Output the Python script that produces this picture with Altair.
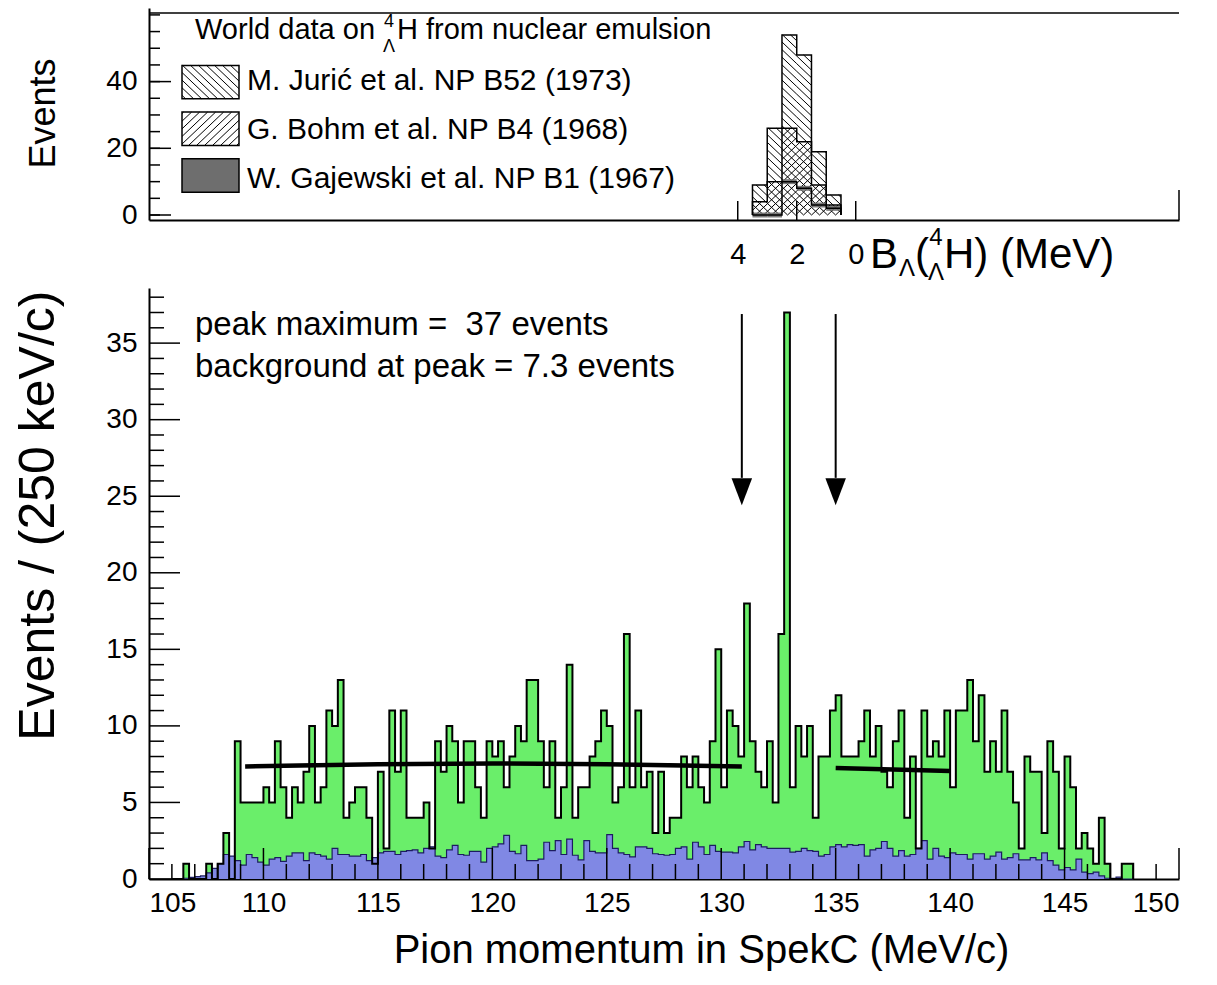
import altair as alt
import numpy as np
import pandas as pd

FONT = "Liberation Sans"
GREEN = "#6aee6a"
BLUE = "#8088e4"
GAJ = "#6e6e6e"

# ---------------- bottom panel: pion momentum spectrum (250 keV bins from 106.0) ----------------
first_edge = 106.0
bin_width = 0.25
signal_counts = [
    0, 0, 1, 0,      # 106
    0, 0, 1, 0,      # 107
    1, 3, 0, 9,      # 108
    5, 5, 5, 5,      # 109
    6, 5, 9, 6,      # 110
    4, 6, 5, 7,      # 111
    10, 5, 6, 11,    # 112
    10, 13, 4, 5,    # 113
    6, 6, 4, 1,      # 114
    7, 2, 11, 7,     # 115
    11, 4, 4, 4,     # 116
    5, 2, 9, 7,      # 117
    10, 9, 5, 9,     # 118
    9, 6, 4, 9,      # 119
    8, 9, 6, 8,      # 120
    10, 9, 13, 13,   # 121
    9, 6, 9, 4,      # 122
    6, 14, 4, 6,     # 123
    6, 8, 9, 11,     # 124
    10, 5, 6, 16,    # 125
    6, 11, 6, 7,     # 126
    3, 7, 3, 4,      # 127
    4, 8, 6, 8,      # 128
    6, 5, 9, 15,     # 129
    6, 11, 10, 8,    # 130
    18, 9, 7, 6,     # 131
    9, 5, 16, 37,    # 132
    6, 10, 8, 10,    # 133
    4, 8, 8, 11,     # 134
    12, 8, 8, 8,     # 135
    9, 11, 8, 10,    # 136
    7, 6, 9, 11,     # 137
    4, 8, 2, 11,     # 138
    8, 9, 8, 11,     # 139
    6, 11, 11, 13,   # 140
    9, 12, 7, 9,     # 141
    7, 11, 7, 5,     # 142
    2, 8, 7, 7,      # 143
    3, 9, 7, 2,      # 144
    8, 6, 2, 3,      # 145
    2, 1, 4, 1,      # 146
    0, 0, 1, 1,      # 147
]
background_counts = [
    0.0, 0.0, 0.05, 0.1,      # 106
    0.15, 0.2, 0.4, 0.7,      # 107
    1.0, 1.6, 1.5, 1.2,       # 108
    0.9, 1.6, 1.4, 1.1,       # 109
    0.9, 1.3, 1.4, 1.15,      # 110
    1.5, 1.7, 1.7, 1.2,       # 111
    1.7, 1.6, 1.5, 1.3,       # 112
    2.0, 1.6, 1.6, 1.5,       # 113
    1.5, 1.6, 1.2, 1.4,       # 114
    1.7, 1.8, 1.8, 1.6,       # 115
    1.8, 1.85, 1.9, 1.7,      # 116
    2.0, 2.1, 1.5, 1.4,       # 117
    1.9, 2.2, 1.6, 1.55,      # 118
    1.8, 1.8, 1.1, 2.0,       # 119
    2.1, 2.3, 2.85, 1.8,      # 120
    1.65, 2.2, 1.2, 1.2,      # 121
    1.3, 2.4, 1.85, 2.5,      # 122
    1.6, 2.6, 1.55, 1.25,     # 123
    2.5, 1.8, 1.7, 1.7,       # 124
    2.9, 2.0, 1.7, 1.6,       # 125
    1.45, 2.1, 2.1, 2.0,      # 126
    1.65, 1.6, 1.55, 1.6,     # 127
    2.0, 2.1, 1.3, 2.4,       # 128
    2.1, 1.6, 2.2, 1.8,       # 129
    1.75, 1.75, 1.7, 2.1,     # 130
    2.45, 1.9, 2.25, 2.1,     # 131
    2.0, 2.0, 2.0, 2.0,       # 132
    1.75, 1.8, 2.0, 1.85,     # 133
    1.8, 1.5, 1.6, 2.1,       # 134
    2.25, 2.1, 2.25, 2.2,     # 135
    2.25, 1.5, 1.9, 2.0,      # 136
    2.45, 2.0, 1.5, 1.85,     # 137
    1.5, 1.6, 2.0, 2.5,       # 138
    1.3, 2.0, 1.5, 1.4,       # 139
    1.7, 1.6, 1.6, 1.3,       # 140
    1.65, 1.65, 1.3, 1.5,     # 141
    1.75, 1.3, 1.4, 1.65,     # 142
    1.25, 1.25, 1.4, 1.25,    # 143
    1.7, 1.2, 0.9, 0.6,       # 144
    0.75, 0.6, 1.3, 0.45,     # 145
    0.35, 0.45, 0.2, 0.05,    # 146
    0.05, 0.12, 0.0, 0.0,     # 147
]
fit1_x = [109.2, 115.0, 120.0, 125.0, 130.9]
fit1_y = [7.35, 7.5, 7.55, 7.5, 7.35]
fit2_x = [135.0, 140.0]
fit2_y = [7.25, 7.05]
arrow_x = [130.9, 135.0]
arrow_top = [36.9, 36.9]
arrow_neck = [26.2, 26.2]
arrow_head_mid = [25.3, 25.3]
x_major = [105, 110, 115, 120, 125, 130, 135, 140, 145, 150]
y_major = [0, 5, 10, 15, 20, 25, 30, 35]
bottom_notes = ["peak maximum =\u00a0 37 events", "background at peak = 7.3 events"]

# ---------------- top panel: world emulsion data on B_Lambda (0.5 MeV bins) ----------------
b_lo = [3.0, 2.5, 2.0, 1.5, 1.0, 0.5]
b_hi = [3.5, 3.0, 2.5, 2.0, 1.5, 1.0]
juric = [5, 16, 28, 26, 10, 3]
bohm = [4, 10, 16, 14, 6, 1]
gajewski = [0, 0, 10, 8, 3, 2]
b_labels = [4, 2, 0]
top_y_labels = [0, 20, 40]
legend_entries = ["M. Jurić et al. NP B52 (1973)", "G. Bohm et al. NP B4 (1968)",
                  "W. Gajewski et al. NP B1 (1967)"]

# ---------------- layout ----------------
W = 1030
H_TOP = 212
H_BOT = 591
X_DOM = [105, 150]
YB_DOM = [0, 38.6]
B_DOM = [-10.96, 23.96]
YT_DOM = [0, 60.57]

px_per_mev_top = W / (B_DOM[1] - B_DOM[0])
px_per_evt_top = H_TOP / (YT_DOM[1] - YT_DOM[0])
k_slope = px_per_mev_top / px_per_evt_top       # events per MeV for a 45 degree line
hatch_step = 8.0 / px_per_mev_top


def b_of_px(px):
    return B_DOM[1] - px / px_per_mev_top


def v_of_py(py):
    return (H_TOP - py) / px_per_evt_top


def hatch(los, his, vlos, vhis, kind):
    rows = []
    cs = np.arange(-40.0, 60.0, hatch_step)
    for lo, hi, vlo, vhi in zip(los, his, vlos, vhis):
        if vhi - vlo <= 0:
            continue
        for c in cs:
            if kind == "back":
                bs = max(c + vlo / k_slope, lo)
                be = min(c + vhi / k_slope, hi)
                if be - bs > 1e-9:
                    rows.append((bs, k_slope * (bs - c), be, k_slope * (be - c)))
            else:
                bs = max(c - vhi / k_slope, lo)
                be = min(c - vlo / k_slope, hi)
                if be - bs > 1e-9:
                    rows.append((bs, k_slope * (c - bs), be, k_slope * (c - be)))
    return pd.DataFrame(rows, columns=["b1", "v1", "b2", "v2"])


total = [j + b + g for j, b, g in zip(juric, bohm, gajewski)]
bg = [b + g for b, g in zip(bohm, gajewski)]

xs_top = alt.Scale(domain=B_DOM, reverse=True, nice=False, zero=False)
ys_top = alt.Scale(domain=YT_DOM, nice=False)


def step_df(values):
    order = sorted(range(len(b_lo)), key=lambda i: b_lo[i])
    xs = [b_lo[order[0]]] + [b_lo[i] for i in order] + [b_hi[order[-1]]]
    ys = [0] + [values[i] for i in order] + [0]
    return pd.DataFrame({"b": xs, "v": ys, "o": list(range(len(xs)))})


def label(text, px, py, size, align="left", baseline="middle"):
    return alt.Chart(pd.DataFrame({"t": [text]})).mark_text(
        font=FONT, fontSize=size, align=align, baseline=baseline, color="black").encode(
        x=alt.value(px), y=alt.value(py), text="t:N")


top_bins = pd.DataFrame({"lo": b_lo, "hi": b_hi, "g": gajewski})

top_layers = []
hb = hatch(b_lo, b_hi, [0] * 6, total, "back")
hf = hatch(b_lo, b_hi, [0] * 6, bg, "fwd")
top_layers.append(alt.Chart(hb).mark_rule(color="black", strokeWidth=1).encode(
    x=alt.X("b1:Q", scale=xs_top,
            axis=alt.Axis(values=b_labels, title=None, labelFontSize=29, labelPadding=20,
                          format="d", domainWidth=2)),
    x2="b2:Q",
    y=alt.Y("v1:Q", scale=ys_top,
            axis=alt.Axis(values=top_y_labels, title="Events", labelFontSize=28, labelPadding=12,
                          titleFontSize=36, titleAngle=270, titleX=-106, titleY=105,
                          titleAlign="center", titleBaseline="middle", domainWidth=2)),
    y2="v2:Q"))
top_layers.append(alt.Chart(hf).mark_rule(color="black", strokeWidth=1).encode(
    x=alt.X("b1:Q", scale=xs_top), x2="b2:Q", y=alt.Y("v1:Q", scale=ys_top), y2="v2:Q"))
top_layers.append(alt.Chart(top_bins).mark_bar(color=GAJ, opacity=0.9).encode(
    x=alt.X("hi:Q", scale=xs_top), x2="lo:Q", y=alt.Y("g:Q", scale=ys_top)))
for vals in (total, bg, gajewski):
    top_layers.append(alt.Chart(step_df(vals)).mark_line(
        interpolate="step-after", color="black", strokeWidth=1.5).encode(
        x=alt.X("b:Q", scale=xs_top), y=alt.Y("v:Q", scale=ys_top), order="o:Q"))

# legend boxes (layout in pixels, converted into the panel's data coordinates)
box_x = [33, 90]
box_y = [[55, 90], [104, 139], [153, 188]]
lg = pd.DataFrame({
    "b1": [b_of_px(box_x[1])] * 3, "b2": [b_of_px(box_x[0])] * 3,
    "v1": [v_of_py(y[1]) for y in box_y], "v2": [v_of_py(y[0]) for y in box_y],
})
top_layers.append(alt.Chart(lg.iloc[[2]]).mark_rect(color=GAJ).encode(
    x=alt.X("b1:Q", scale=xs_top), x2="b2:Q", y=alt.Y("v1:Q", scale=ys_top), y2="v2:Q"))
lh1 = hatch([lg.b1[0]], [lg.b2[0]], [lg.v1[0]], [lg.v2[0]], "back")
lh2 = hatch([lg.b1[1]], [lg.b2[1]], [lg.v1[1]], [lg.v2[1]], "fwd")
for df in (lh1, lh2):
    top_layers.append(alt.Chart(df).mark_rule(color="black", strokeWidth=1).encode(
        x=alt.X("b1:Q", scale=xs_top), x2="b2:Q", y=alt.Y("v1:Q", scale=ys_top), y2="v2:Q"))
top_layers.append(alt.Chart(lg).mark_rect(filled=False, color="black", strokeWidth=1.5).encode(
    x=alt.X("b1:Q", scale=xs_top), x2="b2:Q", y=alt.Y("v1:Q", scale=ys_top), y2="v2:Q"))

for i, entry in enumerate(legend_entries):
    top_layers.append(label(entry, 98, (box_y[i][0] + box_y[i][1]) / 2, 30))
top_layers.append(label("World data on", 46, 22, 29))
top_layers.append(label("4", 240, 14, 18, align="center"))
top_layers.append(label("Λ", 240, 39, 18, align="center"))
top_layers.append(label("H from nuclear emulsion", 248, 22, 29))

# x axis title of top panel: B_Lambda(4_Lambda H) (MeV)
top_layers.append(label("B", 721, 260, 42, baseline="alphabetic"))
top_layers.append(label("Λ", 750, 268, 24, baseline="alphabetic"))
top_layers.append(label("(", 766, 260, 42, baseline="alphabetic"))
top_layers.append(label("4", 787, 237, 24, align="center", baseline="alphabetic"))
top_layers.append(label("Λ", 787, 272, 24, align="center", baseline="alphabetic"))
top_layers.append(label("H) (MeV)", 795, 260, 42, baseline="alphabetic"))

# frame pieces and inward ticks, top panel
top_layers.append(alt.Chart(pd.DataFrame({"v": [YT_DOM[1]]})).mark_rule(color="black", strokeWidth=1.5).encode(
    y=alt.Y("v:Q", scale=ys_top), x=alt.value(0), x2=alt.value(W)))
top_layers.append(alt.Chart(pd.DataFrame({"b": [B_DOM[0]]})).mark_rule(color="black", strokeWidth=1.5).encode(
    x=alt.X("b:Q", scale=xs_top), y=alt.value(H_TOP), y2=alt.value(H_TOP - 30)))
top_minor_y = [v for v in range(0, 61, 5)]
top_layers.append(alt.Chart(pd.DataFrame({"v": top_minor_y})).mark_rule(color="black", strokeWidth=1.5).encode(
    y=alt.Y("v:Q", scale=ys_top), x=alt.value(0), x2=alt.value(11)))
top_layers.append(alt.Chart(pd.DataFrame({"v": top_y_labels})).mark_rule(color="black", strokeWidth=1.5).encode(
    y=alt.Y("v:Q", scale=ys_top), x=alt.value(0), x2=alt.value(22)))
top_layers.append(alt.Chart(pd.DataFrame({"b": b_labels})).mark_rule(color="black", strokeWidth=1.5).encode(
    x=alt.X("b:Q", scale=xs_top), y=alt.value(H_TOP), y2=alt.value(H_TOP - 19)))

top = alt.layer(*top_layers).properties(width=W, height=H_TOP)

# ---------------- bottom panel ----------------
n = len(signal_counts)
edges = [first_edge + i * bin_width for i in range(n + 1)]
steps = pd.DataFrame({
    "x": edges,
    "sig": signal_counts + [0],
    "bkg": background_counts[:n] + [0],
})
xs_bot = alt.Scale(domain=X_DOM, nice=False, zero=False)
ys_bot = alt.Scale(domain=YB_DOM, nice=False)

bot_layers = []
bot_layers.append(alt.Chart(steps).mark_area(interpolate="step-after", color=GREEN).encode(
    x=alt.X("x:Q", scale=xs_bot,
            axis=alt.Axis(values=x_major, title="Pion momentum in SpekC (MeV/c)", labelFontSize=28,
                          labelPadding=10, format="d", titleFontSize=40, titleX=552, titleY=71,
                          titleAlign="center", titleBaseline="middle", domainWidth=2)),
    y=alt.Y("sig:Q", scale=ys_bot,
            axis=alt.Axis(values=y_major, title="Events / (250 keV/c)", labelFontSize=28,
                          labelPadding=12, titleFontSize=50, titleAngle=270, titleX=-111, titleY=2,
                          titleAlign="right", titleBaseline="middle", domainWidth=2)),
))
bot_layers.append(alt.Chart(steps).mark_area(interpolate="step-after", color=BLUE).encode(
    x=alt.X("x:Q", scale=xs_bot), y=alt.Y("bkg:Q", scale=ys_bot)))
bot_layers.append(alt.Chart(steps).mark_line(interpolate="step-after", color="#1c1c60", strokeWidth=1.2).encode(
    x=alt.X("x:Q", scale=xs_bot), y=alt.Y("bkg:Q", scale=ys_bot)))
bot_layers.append(alt.Chart(steps).mark_line(interpolate="step-after", color="black", strokeWidth=2).encode(
    x=alt.X("x:Q", scale=xs_bot), y=alt.Y("sig:Q", scale=ys_bot)))
for fx, fy in ((fit1_x, fit1_y), (fit2_x, fit2_y)):
    bot_layers.append(alt.Chart(pd.DataFrame({"x": fx, "y": fy})).mark_line(
        color="black", strokeWidth=4.5, interpolate="monotone").encode(
        x=alt.X("x:Q", scale=xs_bot), y=alt.Y("y:Q", scale=ys_bot)))
arrows = pd.DataFrame({"x": arrow_x, "top": arrow_top, "neck": arrow_neck, "mid": arrow_head_mid})
bot_layers.append(alt.Chart(arrows).mark_rule(color="black", strokeWidth=2).encode(
    x=alt.X("x:Q", scale=xs_bot), y=alt.Y("top:Q", scale=ys_bot), y2="neck:Q"))
bot_layers.append(alt.Chart(arrows).mark_point(
    shape="M-0.76,-1L0.76,-1L0,1Z", filled=True, size=729, color="black", opacity=1).encode(
    x=alt.X("x:Q", scale=xs_bot), y=alt.Y("mid:Q", scale=ys_bot)))
bot_layers.append(label(bottom_notes[0], 46, 37, 33))
bot_layers.append(label(bottom_notes[1], 46, 79, 33))

# inward ticks, bottom panel
x_minor = [v for v in range(106, 150) if v % 5]
y_minor = [v for v in range(1, 39) if v % 5]
bot_layers.append(alt.Chart(pd.DataFrame({"v": x_minor})).mark_rule(color="black", strokeWidth=1.5).encode(
    x=alt.X("v:Q", scale=xs_bot), y=alt.value(H_BOT), y2=alt.value(H_BOT - 15)))
bot_layers.append(alt.Chart(pd.DataFrame({"v": x_major})).mark_rule(color="black", strokeWidth=1.5).encode(
    x=alt.X("v:Q", scale=xs_bot), y=alt.value(H_BOT), y2=alt.value(H_BOT - 31)))
bot_layers.append(alt.Chart(pd.DataFrame({"v": y_minor})).mark_rule(color="black", strokeWidth=1.5).encode(
    y=alt.Y("v:Q", scale=ys_bot), x=alt.value(0), x2=alt.value(15)))
bot_layers.append(alt.Chart(pd.DataFrame({"v": y_major})).mark_rule(color="black", strokeWidth=1.5).encode(
    y=alt.Y("v:Q", scale=ys_bot), x=alt.value(0), x2=alt.value(31)))

bottom = alt.layer(*bot_layers).properties(width=W, height=H_BOT)

chart = alt.vconcat(top, bottom, spacing=68, bounds="flush").properties(
    padding={"left": 5, "top": 0, "right": 5, "bottom": 5}
).configure_view(stroke=None).configure_axis(
    labelFont=FONT, titleFont=FONT, labelColor="black", titleColor="black", domainColor="black",
    tickSize=0, grid=False, titleFontWeight="normal"
)

chart.save("out.html", embed_options={"renderer": "svg", "actions": False})
